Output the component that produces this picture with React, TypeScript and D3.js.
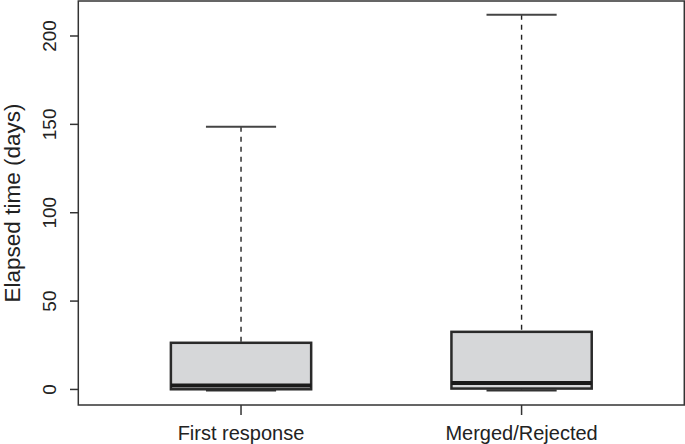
import React from "react";
import * as d3 from "d3";

const categories = ["First response", "Merged/Rejected"];
const whiskerLow = [0, 0];
const q1 = [0.1, 0.5];
const medians = [2.2, 3.7];
const q3 = [26.4, 32.6];
const whiskerHigh = [148.7, 212];
const yTicks = [0, 50, 100, 150, 200];

const W = 685;
const H = 444;
const left = 78.3;
const right = 684.3;
const top = 1;
const bottom = 405;

export default function App() {
  const x = d3.scaleLinear().domain([0.42, 2.58]).range([left, right]);
  const y = d3.scaleLinear().domain([-8.8, 219.8]).range([bottom, top]);
  const font = "'Liberation Sans', Arial, Helvetica, sans-serif";
  const axisColor = "#333";
  const boxHalf = 0.25;
  const stapleHalf = 0.125;

  return (
    <svg
      width={W}
      height={H}
      style={{ position: "absolute", left: 0, top: 0, background: "#fff" }}
      fontFamily={font}
    >
      {categories.map((c, i) => {
        const cx = x(i + 1);
        const bx0 = x(i + 1 - boxHalf);
        const bx1 = x(i + 1 + boxHalf);
        const sx0 = x(i + 1 - stapleHalf);
        const sx1 = x(i + 1 + stapleHalf);
        return (
          <g key={c}>
            <line x1={cx} x2={cx} y1={y(whiskerHigh[i])} y2={y(q3[i])} stroke="#222" strokeWidth={1.4} strokeDasharray="5,5" />
            <line x1={cx} x2={cx} y1={y(q1[i])} y2={y(whiskerLow[i])} stroke="#222" strokeWidth={1.4} strokeDasharray="5,5" />
            <line x1={sx0} x2={sx1} y1={y(whiskerHigh[i])} y2={y(whiskerHigh[i])} stroke="#444" strokeWidth={2} />
            <line x1={sx0} x2={sx1} y1={y(whiskerLow[i]) + 1} y2={y(whiskerLow[i]) + 1} stroke="#333" strokeWidth={2} />
            <rect
              x={bx0}
              y={y(q3[i])}
              width={bx1 - bx0}
              height={y(q1[i]) - y(q3[i])}
              fill="#d6d7d9"
              stroke="#2a2a2a"
              strokeWidth={2.5}
            />
            <line x1={bx0} x2={bx1} y1={y(medians[i])} y2={y(medians[i])} stroke="#1a1a1a" strokeWidth={4} />
          </g>
        );
      })}

      <rect x={left} y={top} width={right - left} height={bottom - top} fill="none" stroke={axisColor} strokeWidth={1.5} />

      {yTicks.map((t) => (
        <g key={t}>
          <line x1={70} x2={left} y1={y(t)} y2={y(t)} stroke={axisColor} strokeWidth={1.5} />
          <text
            transform={`translate(56,${y(t)}) rotate(-90)`}
            textAnchor="middle"
            fontSize={19}
            fill="#222"
          >
            {t}
          </text>
        </g>
      ))}

      {categories.map((c, i) => (
        <g key={c + "t"}>
          <line x1={x(i + 1)} x2={x(i + 1)} y1={bottom} y2={415} stroke={axisColor} strokeWidth={1.5} />
          <text x={x(i + 1)} y={440} textAnchor="middle" fontSize={20} fill="#222">
            {c}
          </text>
        </g>
      ))}

      <text
        transform={`translate(20,${(top + bottom) / 2}) rotate(-90)`}
        textAnchor="middle"
        fontSize={22.5}
        fill="#222"
      >
        Elapsed time (days)
      </text>
    </svg>
  );
}
